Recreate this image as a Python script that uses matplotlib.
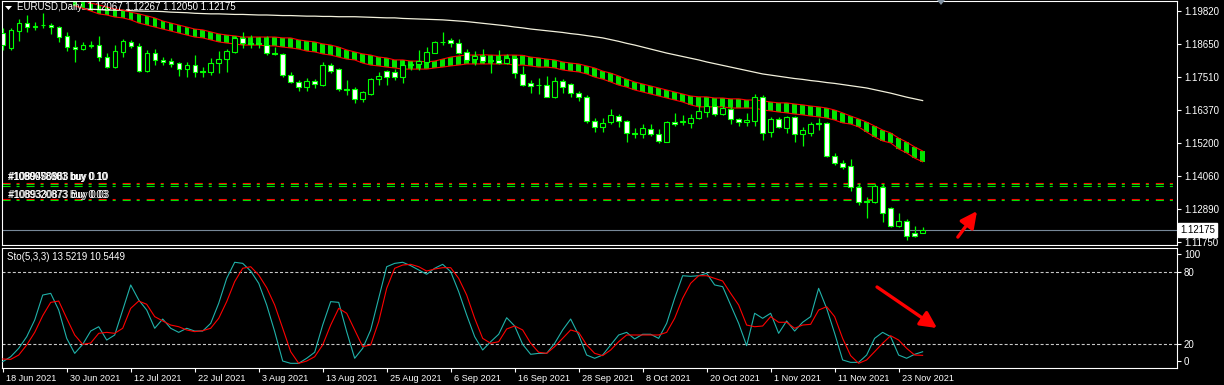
"""
EURUSD daily chart (MT4 style) with MA band, long MA and Stochastic(5,3,3).
"""
import numpy as np
import matplotlib
matplotlib.use("Agg")
import matplotlib.pyplot as plt
from matplotlib.patches import Polygon
from matplotlib.transforms import ScaledTranslation, blended_transform_factory

plt.rcParams["font.family"] = ["Liberation Sans", "DejaVu Sans"]
plt.rcParams["lines.scale_dashes"] = False

# ---- data ----
dates = ["18 Jun 2021", "30 Jun 2021", "12 Jul 2021", "22 Jul 2021", "3 Aug 2021",
         "13 Aug 2021", "25 Aug 2021", "6 Sep 2021", "16 Sep 2021", "28 Sep 2021",
         "8 Oct 2021", "20 Oct 2021", "1 Nov 2021", "11 Nov 2021", "23 Nov 2021"]

opens = [1.1905, 1.1853, 1.1912, 1.1940, 1.1926, 1.1933, 1.1933, 1.1926, 1.1895, 1.1856,
         1.1849, 1.1860, 1.1863, 1.1821, 1.1786, 1.1839, 1.1874, 1.1860, 1.1772, 1.1835,
         1.1811, 1.1807, 1.1800, 1.1779, 1.1793, 1.1772, 1.1769, 1.1800, 1.1814, 1.1839,
         1.1888, 1.1870, 1.1870, 1.1863, 1.1835, 1.1832, 1.1758, 1.1734, 1.1716, 1.1737,
         1.1723, 1.1793, 1.1779, 1.1709, 1.1709, 1.1675, 1.1692, 1.1744, 1.1772, 1.1769,
         1.1751, 1.1793, 1.1797, 1.1804, 1.1835, 1.1874, 1.1881, 1.1870, 1.1839, 1.1814,
         1.1825, 1.1811, 1.1811, 1.1800, 1.1818, 1.1762, 1.1730, 1.1723, 1.1723, 1.1681,
         1.1737, 1.1727, 1.1695, 1.1681, 1.1598, 1.1577, 1.1594, 1.1615, 1.1598, 1.1556,
         1.1552, 1.1570, 1.1552, 1.1524, 1.1594, 1.1594, 1.1591, 1.1608, 1.1629, 1.1650,
         1.1622, 1.1640, 1.1605, 1.1594, 1.1598, 1.1681, 1.1559, 1.1605, 1.1573, 1.1612,
         1.1552, 1.1556, 1.1591, 1.1591, 1.1475, 1.1451, 1.1440, 1.1367, 1.1318, 1.1315,
         1.1367, 1.1294, 1.1231, 1.1248, 1.1206, 1.12067]
highs = [1.1923, 1.1923, 1.1954, 1.1968, 1.1944, 1.1975, 1.1940, 1.1930, 1.1909, 1.1881,
         1.1874, 1.1877, 1.1895, 1.1835, 1.1863, 1.1884, 1.1881, 1.1870, 1.1846, 1.1849,
         1.1821, 1.1818, 1.1804, 1.1804, 1.1828, 1.1786, 1.1818, 1.1842, 1.1849, 1.1895,
         1.1909, 1.1898, 1.1891, 1.1895, 1.1856, 1.1835, 1.1769, 1.1741, 1.1748, 1.1744,
         1.1804, 1.1800, 1.1783, 1.1741, 1.1716, 1.1702, 1.1748, 1.1769, 1.1776, 1.1779,
         1.1811, 1.1807, 1.1846, 1.1856, 1.1877, 1.1909, 1.1888, 1.1884, 1.1849, 1.1842,
         1.1849, 1.1828, 1.1846, 1.1832, 1.1821, 1.1790, 1.1741, 1.1748, 1.1755, 1.1751,
         1.1744, 1.1730, 1.1702, 1.1688, 1.1608, 1.1608, 1.1640, 1.1622, 1.1601, 1.1573,
         1.1587, 1.1587, 1.1570, 1.1598, 1.1626, 1.1619, 1.1622, 1.1654, 1.1661, 1.1657,
         1.1654, 1.1647, 1.1608, 1.1626, 1.1692, 1.1688, 1.1612, 1.1612, 1.1615, 1.1615,
         1.1577, 1.1594, 1.1608, 1.1594, 1.1486, 1.1461, 1.1465, 1.1381, 1.1332, 1.1378,
         1.1378, 1.1297, 1.1276, 1.1255, 1.1231, 1.12267]
lows = [1.1846, 1.1846, 1.1877, 1.1909, 1.1916, 1.1923, 1.1902, 1.1874, 1.1842, 1.1804,
        1.1846, 1.1853, 1.1807, 1.1783, 1.1783, 1.1821, 1.1853, 1.1769, 1.1769, 1.1793,
        1.1793, 1.1786, 1.1755, 1.1751, 1.1751, 1.1751, 1.1758, 1.1765, 1.1769, 1.1835,
        1.1853, 1.1853, 1.1853, 1.1828, 1.1828, 1.1751, 1.1730, 1.1702, 1.1702, 1.1713,
        1.1720, 1.1765, 1.1702, 1.1688, 1.1660, 1.1664, 1.1688, 1.1723, 1.1723, 1.1741,
        1.1730, 1.1776, 1.1776, 1.1800, 1.1835, 1.1863, 1.1856, 1.1832, 1.1804, 1.1793,
        1.1800, 1.1765, 1.1797, 1.1797, 1.1748, 1.1720, 1.1695, 1.1692, 1.1681, 1.1678,
        1.1695, 1.1681, 1.1667, 1.1591, 1.1559, 1.1559, 1.1587, 1.1577, 1.1524, 1.1538,
        1.1538, 1.1545, 1.1521, 1.1524, 1.1580, 1.1584, 1.1573, 1.1605, 1.1612, 1.1615,
        1.1619, 1.1587, 1.1580, 1.1580, 1.1580, 1.1531, 1.1542, 1.1573, 1.1556, 1.1524,
        1.1510, 1.1545, 1.1566, 1.1472, 1.1444, 1.1430, 1.1353, 1.1304, 1.1259, 1.1311,
        1.1245, 1.1227, 1.1227, 1.1182, 1.1192, 1.12050]
closes = [1.1863, 1.1916, 1.1940, 1.1926, 1.1930, 1.1932, 1.1926, 1.1891, 1.1856, 1.1849,
          1.1863, 1.1862, 1.1821, 1.1786, 1.1842, 1.1877, 1.1860, 1.1772, 1.1835, 1.1811,
          1.1804, 1.1797, 1.1779, 1.1793, 1.1769, 1.1770, 1.1800, 1.1814, 1.1842, 1.1888,
          1.1870, 1.1867, 1.1868, 1.1835, 1.1833, 1.1758, 1.1734, 1.1716, 1.1737, 1.1727,
          1.1793, 1.1772, 1.1709, 1.1706, 1.1675, 1.1699, 1.1744, 1.1755, 1.1751, 1.1751,
          1.1793, 1.1797, 1.1807, 1.1839, 1.1874, 1.1873, 1.1870, 1.1835, 1.1811, 1.1825,
          1.1807, 1.1808, 1.1800, 1.1818, 1.1765, 1.1723, 1.1720, 1.1722, 1.1682, 1.1737,
          1.1716, 1.1695, 1.1681, 1.1598, 1.1577, 1.1591, 1.1619, 1.1598, 1.1556, 1.1553,
          1.1573, 1.1552, 1.1528, 1.1594, 1.1587, 1.1597, 1.1608, 1.1633, 1.1650, 1.1622,
          1.1643, 1.1605, 1.1594, 1.1601, 1.1681, 1.1556, 1.1605, 1.1577, 1.1612, 1.1552,
          1.1566, 1.1587, 1.1588, 1.1475, 1.1451, 1.1437, 1.1367, 1.1315, 1.1314, 1.1371,
          1.1276, 1.1231, 1.1248, 1.1196, 1.1196, 1.12175]

# MA channel (starts at bar 9)
band_start = 9
band_upper = [1.2024, 1.2020, 1.2010, 1.2003, 1.1996, 1.1989, 1.1985, 1.1978, 1.1972, 1.1965,
              1.1958, 1.1947, 1.1940, 1.1933, 1.1926, 1.1919, 1.1916, 1.1909, 1.1902, 1.1898,
              1.1895, 1.1891, 1.1891, 1.1891, 1.1891, 1.1891, 1.1888, 1.1888, 1.1881, 1.1877,
              1.1874, 1.1867, 1.1863, 1.1856, 1.1846, 1.1839, 1.1832, 1.1828, 1.1821, 1.1818,
              1.1811, 1.1811, 1.1807, 1.1807, 1.1804, 1.1807, 1.1814, 1.1821, 1.1825, 1.1828,
              1.1828, 1.1829, 1.1828, 1.1827, 1.1828, 1.1828, 1.1827, 1.1821, 1.1818, 1.1814,
              1.1811, 1.1804, 1.1800, 1.1797, 1.1790, 1.1783, 1.1772, 1.1765, 1.1755, 1.1744,
              1.1734, 1.1727, 1.1720, 1.1713, 1.1706, 1.1699, 1.1692, 1.1685, 1.1682, 1.1682,
              1.1678, 1.1678, 1.1675, 1.1675, 1.1671, 1.1671, 1.1668, 1.1664, 1.1661, 1.1661,
              1.1657, 1.1654, 1.1650, 1.1647, 1.1643, 1.1636, 1.1626, 1.1615, 1.1605, 1.1594,
              1.1580, 1.1566, 1.1556, 1.1538, 1.1524, 1.1507, 1.1493]
band_lower = [1.2000, 1.1992, 1.1982, 1.1972, 1.1968, 1.1961, 1.1958, 1.1951, 1.1940, 1.1933,
              1.1926, 1.1919, 1.1912, 1.1905, 1.1898, 1.1891, 1.1888, 1.1881, 1.1874, 1.1870,
              1.1867, 1.1863, 1.1863, 1.1863, 1.1860, 1.1860, 1.1856, 1.1853, 1.1849, 1.1842,
              1.1839, 1.1832, 1.1828, 1.1821, 1.1814, 1.1811, 1.1800, 1.1793, 1.1790, 1.1786,
              1.1783, 1.1779, 1.1779, 1.1779, 1.1779, 1.1783, 1.1786, 1.1790, 1.1793, 1.1797,
              1.1797, 1.1797, 1.1797, 1.1797, 1.1797, 1.1793, 1.1793, 1.1790, 1.1786, 1.1786,
              1.1783, 1.1776, 1.1772, 1.1769, 1.1762, 1.1751, 1.1744, 1.1734, 1.1723, 1.1716,
              1.1706, 1.1699, 1.1692, 1.1685, 1.1678, 1.1671, 1.1664, 1.1654, 1.1647, 1.1647,
              1.1647, 1.1647, 1.1643, 1.1643, 1.1643, 1.1643, 1.1636, 1.1633, 1.1629, 1.1626,
              1.1622, 1.1619, 1.1615, 1.1612, 1.1608, 1.1601, 1.1591, 1.1587, 1.1577, 1.1559,
              1.1542, 1.1528, 1.1521, 1.1500, 1.1486, 1.1468, 1.1455]

# long moving average (starts at bar 10)
ma_start = 10
ma_long = [1.1989, 1.1988, 1.1987, 1.1985, 1.1985, 1.1984, 1.1983, 1.1982, 1.1981, 1.1981,
           1.1980, 1.1978, 1.1977, 1.1976, 1.1974, 1.1973, 1.1972, 1.1972, 1.1971, 1.1970,
           1.1970, 1.1969, 1.1968, 1.1968, 1.1967, 1.1966, 1.1966, 1.1965, 1.1964, 1.1964,
           1.1963, 1.1963, 1.1962, 1.1962, 1.1962, 1.1961, 1.1960, 1.1959, 1.1958, 1.1958,
           1.1956, 1.1955, 1.1954, 1.1953, 1.1952, 1.1951, 1.1949, 1.1947, 1.1945, 1.1942,
           1.1939, 1.1936, 1.1933, 1.1930, 1.1926, 1.1923, 1.1919, 1.1916, 1.1913, 1.1910,
           1.1907, 1.1903, 1.1900, 1.1896, 1.1892, 1.1888, 1.1882, 1.1876, 1.1869, 1.1863,
           1.1856, 1.1849, 1.1842, 1.1835, 1.1829, 1.1823, 1.1817, 1.1811, 1.1804, 1.1798,
           1.1792, 1.1786, 1.1780, 1.1774, 1.1768, 1.1762, 1.1758, 1.1754, 1.1750, 1.1746,
           1.1743, 1.1739, 1.1736, 1.1732, 1.1729, 1.1725, 1.1721, 1.1717, 1.1713, 1.1707,
           1.1701, 1.1695, 1.1688, 1.1681, 1.1675, 1.1669]

sto_k = [5.3, 9.4, 16.4, 26.1, 40.0, 60.8, 62.2, 48.3, 24.7, 12.2,
         19.7, 30.8, 34.4, 23.3, 27.5, 48.3, 69.2, 56.7, 48.3, 33.1,
         40.8, 33.1, 29.7, 33.1, 30.8, 30.8, 37.2, 53.9, 74.7, 88.1,
         87.2, 80.8, 70.6, 52.5, 30.3, 5.8, 3.9, 3.9, 8.1, 13.1,
         35.8, 55.3, 54.7, 30.3, 8.1, 16.4, 31.7, 58.1, 84.4, 87.2,
         88.1, 85.3, 81.7, 78.1, 83.1, 86.4, 80.3, 63.6, 44.2, 26.1,
         15.0, 21.9, 28.1, 41.9, 35.0, 19.7, 11.4, 12.2, 12.2, 20.6,
         31.7, 40.8, 27.5, 10.8, 8.1, 10.8, 19.2, 27.5, 29.7, 24.2,
         28.1, 28.1, 24.7, 37.2, 58.1, 76.9, 76.4, 76.9, 78.9, 69.2,
         67.8, 52.5, 37.2, 18.6, 45.6, 41.4, 45.6, 28.9, 39.2, 30.8,
         38.1, 42.8, 66.4, 49.7, 28.9, 6.7, 4.7, 4.7, 10.8, 24.7,
         29.7, 26.1, 10.8, 8.1, 11.4, 13.5219]
sto_d = [7.5, 7.2, 10.8, 19.2, 29.7, 43.6, 54.7, 55.8, 41.4, 27.5,
         19.7, 20.8, 28.9, 29.7, 28.9, 33.1, 49.7, 55.8, 53.1, 42.8,
         39.2, 35.8, 34.4, 31.7, 30.3, 31.1, 33.1, 41.4, 55.3, 72.0,
         83.1, 84.4, 77.5, 66.9, 52.5, 33.1, 13.6, 3.9, 5.8, 9.4,
         19.2, 35.8, 49.7, 45.6, 31.7, 17.8, 19.2, 38.6, 66.4, 83.1,
         85.8, 86.4, 84.4, 80.8, 82.5, 83.6, 83.6, 74.7, 60.8, 41.4,
         24.7, 20.6, 21.9, 32.5, 35.0, 31.7, 20.6, 13.1, 12.2, 17.8,
         24.7, 31.7, 29.7, 19.2, 12.2, 10.3, 15.0, 21.9, 27.5, 27.5,
         27.5, 27.5, 27.5, 29.7, 41.4, 58.1, 70.6, 76.9, 76.9, 74.7,
         72.5, 62.2, 52.5, 35.8, 34.4, 35.0, 42.8, 38.1, 38.1, 33.1,
         35.8, 36.4, 48.3, 51.1, 42.8, 24.7, 10.3, 3.9, 6.7, 13.6,
         20.6, 26.9, 23.3, 16.4, 10.8, 10.5449]

price_ticks = [1.19820, 1.18650, 1.17510, 1.16370, 1.15200, 1.14060, 1.12890, 1.11750]
sto_levels = [20, 80]
bid = 1.12175
order_green = [1.1377, 1.1372, 1.1320]
order_red = [1.1382, 1.1326]
labels_a = ["#1090058881 buy 0.10", "#1089978103 buy 0.10", "#1089400983 buy 0.10"]
labels_b = ["#1089320873 buy 0.03", "#1089330873 Buy 0.03"]

W, H = 1224, 385
LIME = "#00ff00"
FS = 7


def frac(x0, y0, x1, y1):
    # pixel box (top-left origin) -> figure fraction rect
    return [x0 / W, 1 - y1 / H, (x1 - x0) / W, (y1 - y0) / H]


def px(x, y):
    return (x / W, 1 - y / H)


def style_axes(a):
    a.set_facecolor("black")
    for s in a.spines.values():
        s.set_color("white")
        s.set_linewidth(0.8)


fig = plt.figure(figsize=(W / 100, H / 100), dpi=100, facecolor="black")
ax = fig.add_axes(frac(2, 1, 1177, 245))
ax2 = fig.add_axes(frac(2, 248, 1177, 368), sharex=ax)
style_axes(ax)
style_axes(ax2)

o = np.array(opens)
h = np.array(highs)
l = np.array(lows)
c = np.array(closes)
x = np.arange(len(o))

# MA channel: green histogram between two red lines
xb = np.arange(band_start, band_start + len(band_upper))
up = np.array(band_upper)
lo = np.array(band_lower)
ax.bar(xb, up - lo, bottom=lo, width=0.55, color="#00e600", linewidth=0, zorder=2)
ax.plot(xb, up, color="red", lw=0.8, zorder=2.5)
ax.plot(xb, lo, color="red", lw=0.8, zorder=2.5)

# long MA
xm = np.arange(ma_start, ma_start + len(ma_long))
ax.plot(xm, ma_long, color="#f2f0dc", lw=0.9, zorder=2)

# candles
bull = c >= o
ax.vlines(x, l, h, color=LIME, lw=0.9, zorder=3)
ax.bar(x, np.abs(c - o), bottom=np.minimum(o, c), width=0.55,
       color=np.where(bull, "black", "white"), edgecolor=LIME, linewidth=0.8, zorder=4)

# bid line and order lines
ax.axhline(bid, color="#778899", lw=0.8, zorder=1)
dd = (5.8, 4.3, 2.2, 5.0)
for p in order_red:
    ax.axhline(p, color="red", lw=0.8, dashes=dd, zorder=1.5)
for p in order_green:
    ax.axhline(p, color="#00e000", lw=0.8, dashes=dd, zorder=1.6)
for k, t in enumerate(labels_a):
    ax.text(0.65 + 0.06 * k, 1.1403, t, color="white", fontsize=FS, va="center", zorder=6)
for k, t in enumerate(labels_b):
    ax.text(0.65 + 0.08 * k, 1.1339, t, color="white", fontsize=FS, va="center", zorder=6)

# red arrow on price panel
ax.annotate("", xy=(121.8, 1.1283), xytext=(119.4, 1.1192),
            arrowprops=dict(arrowstyle="-|>,head_length=0.7,head_width=0.35",
                            color="red", lw=2.4, mutation_scale=14,
                            shrinkA=0, shrinkB=0), zorder=7)

ax.set_xlim(-0.09, 146.8)
ax.set_ylim(1.11644, 1.20169)
ax.yaxis.tick_right()
ax.set_yticks(price_ticks)
ax.set_yticklabels([f"{p:.5f}" for p in price_ticks])
ax.tick_params(axis="y", colors="white", length=3, width=0.8, pad=2, labelsize=FS)
ax.tick_params(axis="x", bottom=False, labelbottom=False)

# bid price box
bt = blended_transform_factory(ax.transAxes, ax.transData)
ax.text(1.0025, bid, f"{bid:.5f}", transform=bt, color="black", fontsize=FS,
        va="center", ha="left", zorder=8, clip_on=False,
        bbox=dict(boxstyle="square,pad=0.18", fc="white", ec="white"))

# stochastic panel
ax2.plot(x, sto_k, color="#20b2aa", lw=0.8, zorder=3)
ax2.plot(x, sto_d, color="red", lw=0.8, zorder=3)
for lv in sto_levels:
    ax2.axhline(lv, color="#c8c8c8", lw=0.8, dashes=(2.2, 1.5), zorder=1)
ax2.annotate("", xy=(116.8, 33.3), xytext=(109.3, 67.5),
             arrowprops=dict(arrowstyle="-|>,head_length=0.7,head_width=0.35",
                             color="red", lw=2.4, mutation_scale=14,
                             shrinkA=0, shrinkB=0), zorder=7)
ax2.set_ylim(0, 100)
ax2.yaxis.tick_right()
ax2.set_yticks([95, 80, 20, 5.8])
ax2.set_yticklabels(["100", "80", "20", "0"])
ax2.tick_params(axis="y", colors="white", length=3, width=0.8, pad=2, labelsize=FS)

ax2.set_xticks(np.arange(0, 8 * len(dates), 8))
ax2.set_xticklabels(dates)
ax2.tick_params(axis="x", colors="white", length=3, width=0.8, pad=1.5, labelsize=6.6)
shift = ScaledTranslation(3 / 100, 0, fig.dpi_scale_trans)
for lab in ax2.get_xticklabels():
    lab.set_horizontalalignment("left")
    lab.set_transform(lab.get_transform() + shift)

# header texts and small markers
fig.text(*px(17, 7.5), "EURUSD,Daily  1.12067 1.12267 1.12050 1.12175",
         color="white", fontsize=FS, va="center")
fig.text(*px(7, 256.5), "Sto(5,3,3) 13.5219 10.5449", color="white", fontsize=FS, va="center")
fig.patches.append(Polygon([px(5, 6), px(12, 6), px(8.5, 10)], closed=True,
                           transform=fig.transFigure, fc="white", ec="none"))
fig.patches.append(Polygon([px(937, 0), px(945, 0), px(941, 5)], closed=True,
                           transform=fig.transFigure, fc="#8090a0", ec="none"))

fig.savefig("out.png", dpi=100, facecolor="black")
